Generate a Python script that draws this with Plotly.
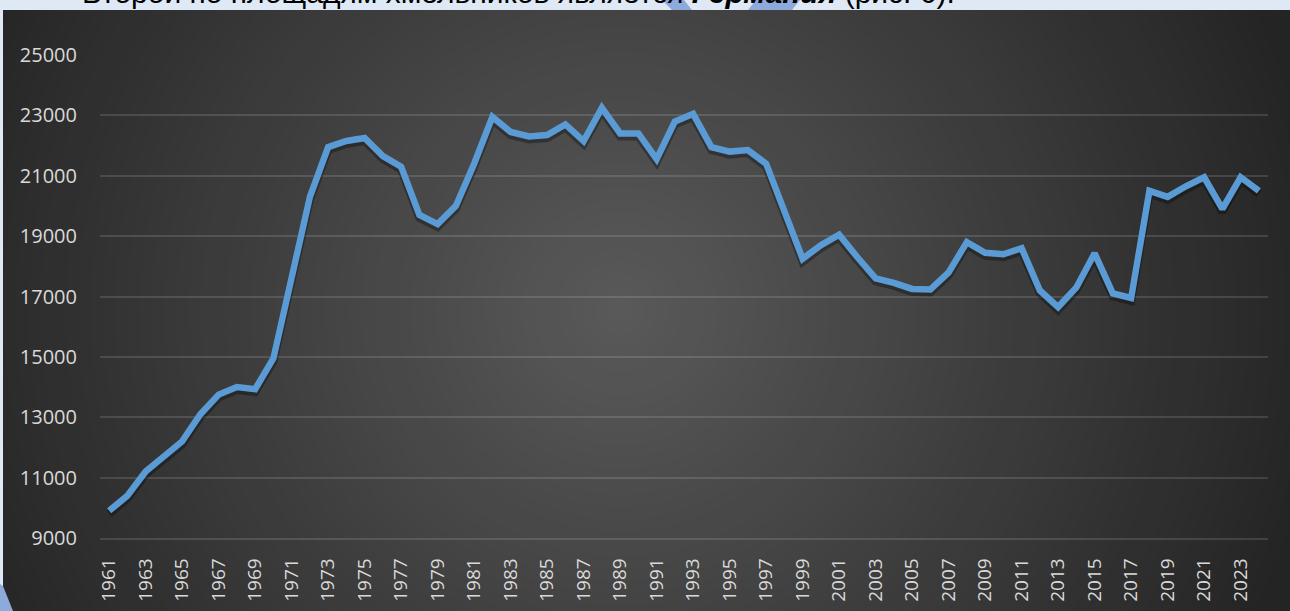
import plotly.graph_objects as go

# ---- data ----
years = list(range(1961, 2025))
area = [9900, 10400, 11200, 11700, 12200, 13100, 13750, 14000, 13930, 14950,
        17700, 20300, 21950, 22150, 22250, 21650, 21300, 19700, 19400, 20000,
        21400, 22950, 22450, 22300, 22350, 22700, 22150, 23250, 22400, 22400,
        21550, 22800, 23050, 21950, 21800, 21850, 21400, 19850, 18250, 18700,
        19050, 18300, 17600, 17450, 17250, 17230, 17800, 18800, 18450, 18400,
        18600, 17200, 16650, 17300, 18430, 17100, 16950, 20500, 20300, 20650,
        20950, 19900, 20950, 20500]
x_ticks = years[::2]
y_ticks = [9000, 11000, 13000, 15000, 17000, 19000, 21000, 23000, 25000]
caption_plain = "Второй по площадям хмельников является "
caption_bold = "Германия"
caption_end = " (рис. 6)."

# ---- layout geometry (pixels) ----
W, H = 1290, 611
L, R, T, B = 100, 1268, 54, 538
Y_LO, Y_HI = 9000, 25033  # tiny headroom so the 25000 gridline is drawn


def px(xp):
    return (xp - L) / (R - L)


def py(yp):
    return (B - yp) / (B - T)


shapes = []
# dark chart background
shapes.append(dict(type="rect", xref="paper", yref="paper", layer="below",
                   x0=px(3), x1=px(W + 5), y0=py(10), y1=py(H + 5),
                   fillcolor="rgb(36,36,36)", line=dict(width=0)))
# radial gradient built from concentric circles
cx, cy = 620, 310
steps = 60
rmax = 740
for i in range(steps):
    r = rmax * (1 - i / steps)
    g = int(round(90 - min(r, 720) / 720 * 54))
    shapes.append(dict(type="circle", xref="paper", yref="paper", layer="below",
                       x0=px(cx - r), x1=px(cx + r), y0=py(cy + r), y1=py(cy - r),
                       fillcolor=f"rgb({g},{g},{g})", line=dict(width=0)))
# light page strips (top and left)
page = "#dfe9f5"
shapes.append(dict(type="rect", xref="paper", yref="paper", layer="below",
                   x0=px(-5), x1=px(W + 5), y0=py(10), y1=py(-5),
                   fillcolor=page, line=dict(width=0)))
shapes.append(dict(type="rect", xref="paper", yref="paper", layer="below",
                   x0=px(-5), x1=px(3), y0=py(H + 5), y1=py(-5),
                   fillcolor=page, line=dict(width=0)))
# decorative blue page graphics
deco = "#8eaadb"


def path(pts):
    return "M " + " L ".join(f"{px(a)},{py(b)}" for a, b in pts) + " Z"


shapes.append(dict(type="path", xref="paper", yref="paper", layer="below",
                   path=path([(662, 0), (684, 0), (692, 10), (672, 10)]),
                   fillcolor=deco, line=dict(width=0)))
shapes.append(dict(type="path", xref="paper", yref="paper", layer="below",
                   path=path([(756, 0), (800, 0), (792, 10), (748, 10)]),
                   fillcolor=deco, line=dict(width=0)))
shapes.append(dict(type="path", xref="paper", yref="paper", layer="above",
                   path=path([(0, 584), (3, 586), (13, 611), (0, 611)]),
                   fillcolor=deco, line=dict(width=0)))

fig = go.Figure()
# soft shadow under the line (base subplot, axis range shifted ~3px)
fig.add_trace(go.Scatter(x=years, y=area, mode="lines", yaxis="y",
                         line=dict(color="rgba(0,0,0,0.32)", width=8),
                         hoverinfo="skip", showlegend=False))
# main line (overlay subplot, drawn above the shadow)
fig.add_trace(go.Scatter(x=years, y=area, mode="lines", yaxis="y2",
                         line=dict(color="#5b9bd5", width=6.5),
                         showlegend=False))

y_font = dict(family="Open Sans", size=20, color="#d9d9d9")
x_font = dict(family="Open Sans", size=19, color="#d9d9d9")

fig.update_layout(
    width=W, height=H,
    margin=dict(l=L, r=W - R, t=T, b=H - B, pad=0, autoexpand=False),
    paper_bgcolor=page,
    plot_bgcolor="rgba(0,0,0,0)",
    shapes=shapes,
    xaxis=dict(range=[1960.5, 2024.5], tickmode="array", tickvals=x_ticks,
               ticktext=[str(v) for v in x_ticks], tickangle=-90,
               tickfont=x_font, showgrid=False, zeroline=False,
               showline=True, linecolor="rgba(255,255,255,0.13)", linewidth=1.5,
               ticks="", ticklabelstandoff=11, automargin=False),
    yaxis=dict(range=[Y_LO + 100, Y_HI + 100], visible=False, showgrid=False,
               automargin=False),
    yaxis2=dict(range=[Y_LO, Y_HI], overlaying="y", side="left",
                tickmode="array", tickvals=y_ticks,
                ticktext=[str(v) for v in y_ticks],
                tickfont=y_font, showgrid=True,
                gridcolor="rgba(255,255,255,0.13)", gridwidth=1.5,
                zeroline=False, showline=False, ticks="",
                ticklabelstandoff=22, automargin=False),
    annotations=[dict(
        xref="paper", yref="paper", x=px(80), y=1, xanchor="left",
        yanchor="bottom", yshift=43, showarrow=False,
        text=caption_plain + "<b><i>" + caption_bold + "</i></b>" + caption_end,
        font=dict(family="Liberation Sans", size=30, color="#000000"))],
)

fig.write_html("out.html", config={"displayModeBar": False},
               post_script="document.body.style.margin='0';")
